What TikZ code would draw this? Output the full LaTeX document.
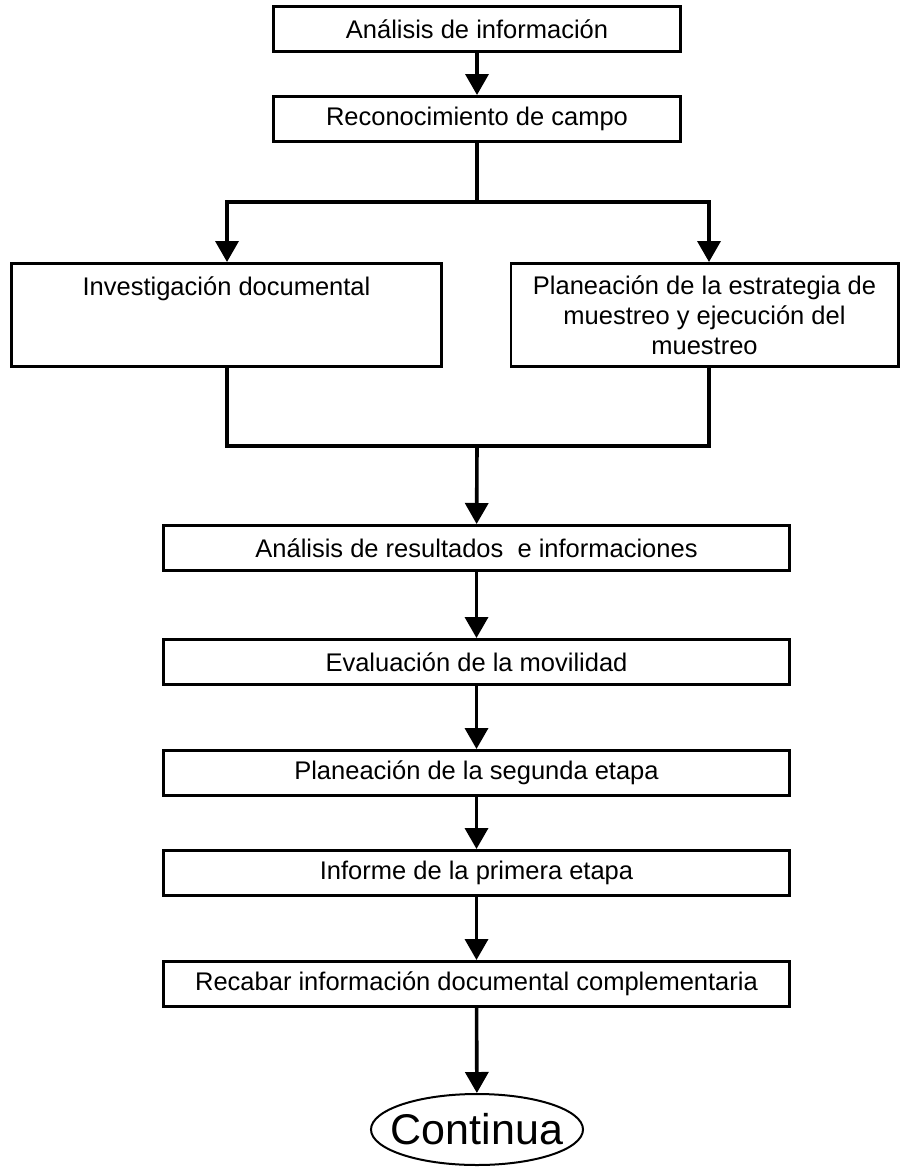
\documentclass[tikz,border=0pt]{standalone}
\usepackage{fontspec}
\setmainfont{Liberation Sans}
\usetikzlibrary{arrows.meta,shapes.geometric}
\begin{document}
\begin{tikzpicture}[x=0.5pt,y=-0.5pt,
  box/.style={draw=black,line width=1.3pt,rectangle,inner sep=0pt,
    font=\fontsize{12.75}{15}\selectfont,align=center},
  wide/.style={box,minimum width=313.2pt,minimum height=22.7pt},
  endnode/.style={draw=black,line width=1pt,ellipse,inner sep=0pt,
    minimum width=106pt,minimum height=35.5pt,font=\fontsize{21.5}{25}\selectfont},
  conn/.style={line width=1.8pt,draw=black,line join=miter},
  arr/.style={conn,-{Triangle[length=10.5pt,width=11.5pt]}}]
\useasboundingbox (0,0) rectangle (901,1168);
\node[box,minimum width=203.7pt,minimum height=22.7pt] (b1) at (477,29) {Análisis de información};
\node[box,minimum width=203.7pt,minimum height=22.7pt] (b2) at (477,119) {Reconocimiento de campo};
\node[box,minimum width=215.2pt,text height=16pt,text depth=35.7pt] (b3) at (226.5,315) {Investigación documental};
\node[box,minimum width=193.7pt,minimum height=51.7pt] (b4) at (704.5,315) {Planeación de la estrategia de\\muestreo y ejecución del\\muestreo};
\node[wide] (b5) at (476.5,548) {Análisis de resultados\ \ e informaciones};
\node[wide] (b6) at (476.5,662) {Evaluación de la movilidad};
\node[wide] (b7) at (476.5,773) {Planeación de la segunda etapa};
\node[wide] (b8) at (476.5,873) {Informe de la primera etapa};
\node[wide] (b9) at (476.5,984) {Recabar información documental complementaria};
\node[endnode] (cont) at (477,1129.5) {\makebox[0pt]{Continua}};
\coordinate (jM) at (477,202);
\coordinate (jL) at (227,202);
\coordinate (jR) at (709,202);
\coordinate (kL) at (227,446);
\coordinate (kR) at (709,446);
\coordinate (kM) at (477,446);
\draw[arr] (b1) -- (b2);
\draw[conn] (b2.south) -- (jM);
\draw[arr] (jM) -- (jL) -- (b3.north -| jL);
\draw[arr] (jM) -- (jR) -- (b4.north -| jR);
\draw[conn] (b3.south -| kL) -- (kL) -- (kR) -- (b4.south -| kR);
\draw[arr] (kM) -- (b5);
\draw[arr] (b5) -- (b6);
\draw[arr] (b6) -- (b7);
\draw[arr] (b7) -- (b8);
\draw[arr] (b8) -- (b9);
\draw[arr] (b9) -- (cont);
\end{tikzpicture}
\end{document}
